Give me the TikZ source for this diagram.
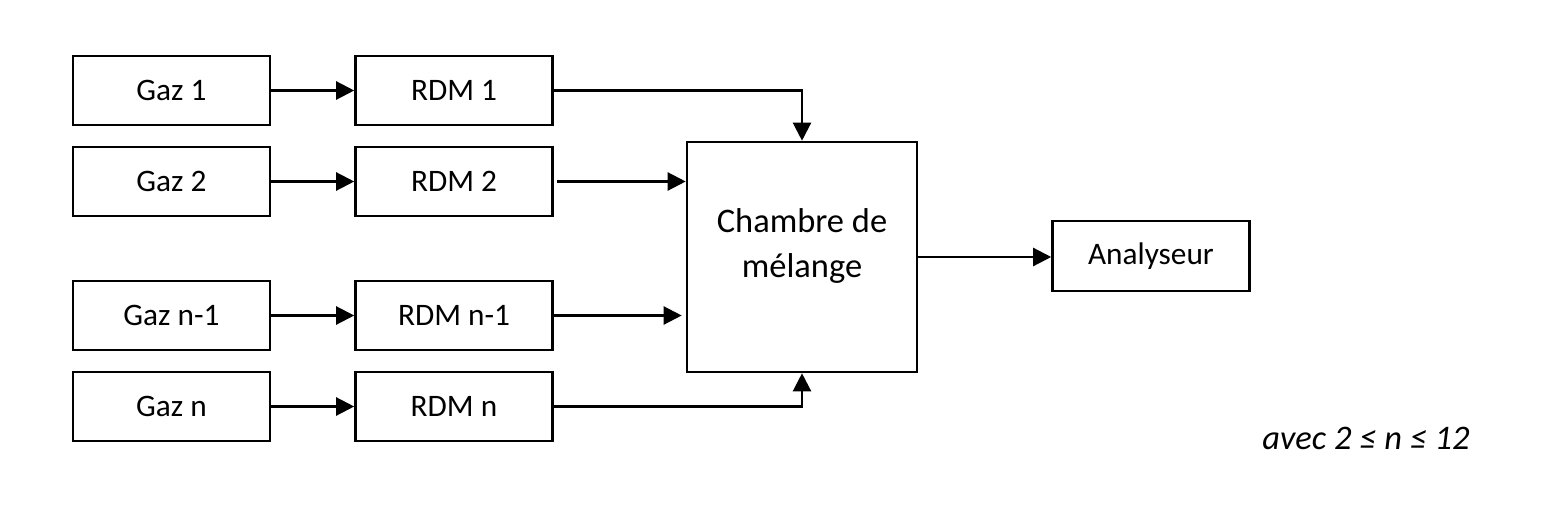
\documentclass[tikz,border=0pt]{standalone}
\usepackage{fontspec}
\setmainfont{Carlito}
\usetikzlibrary{arrows.meta}
\begin{document}
\begin{tikzpicture}[x=0.01cm,y=-0.01cm,
  box/.style={draw,line width=0.7pt,minimum width=1.97cm,minimum height=0.69cm,inner sep=0pt,font=\fontsize{8.9}{10.5}\selectfont},
  conn/.style={line width=0.65pt,-{Triangle[length=0.18cm,width=0.18cm]}},
  big/.style={font=\fontsize{9.8}{12}\selectfont,inner sep=0pt}]
\useasboundingbox (0,0) rectangle (1557,521);
\node[box] (g1) at (171.5,90.5) {Gaz 1};
\node[box] (g2) at (171.5,181.5) {Gaz 2};
\node[box] (g3) at (171.5,315.5) {Gaz n-1};
\node[box] (g4) at (171.5,406.5) {Gaz n};
\node[box] (r1) at (454,90.5) {RDM 1};
\node[box] (r2) at (454,181.5) {RDM 2};
\node[box] (r3) at (454,315.5) {RDM n-1};
\node[box] (r4) at (454,406.5) {RDM n};
\node[box,minimum width=2.30cm,minimum height=2.30cm] (ch) at (802,257) {};
\node[big,anchor=base] (cht1) at (802,232) {Chambre de};
\node[big,anchor=base] (cht2) at (802,277) {mélange};
\node[box,minimum height=0.70cm] (an) at (1151,256) {Analyseur};
\node[big,anchor=center] (note) at (1366,438) {\itshape avec 2 ≤ n ≤ 12};
\draw[conn] (g1) -- (r1);
\draw[conn] (g2) -- (r2);
\draw[conn] (g3) -- (r3);
\draw[conn] (g4) -- (r4);
\draw[conn] (r1.east) -| (ch.north);
\draw[conn] ([xshift=0.03cm]r2.east) -- (r2.east -| ch.west);
\draw[conn] (r3.east) -- ([xshift=-0.04cm]r3.east -| ch.west);
\draw[conn] (r4.east) -| (ch.south);
\draw[conn] (ch.east) -- (ch.east -| an.west);
\end{tikzpicture}
\end{document}
